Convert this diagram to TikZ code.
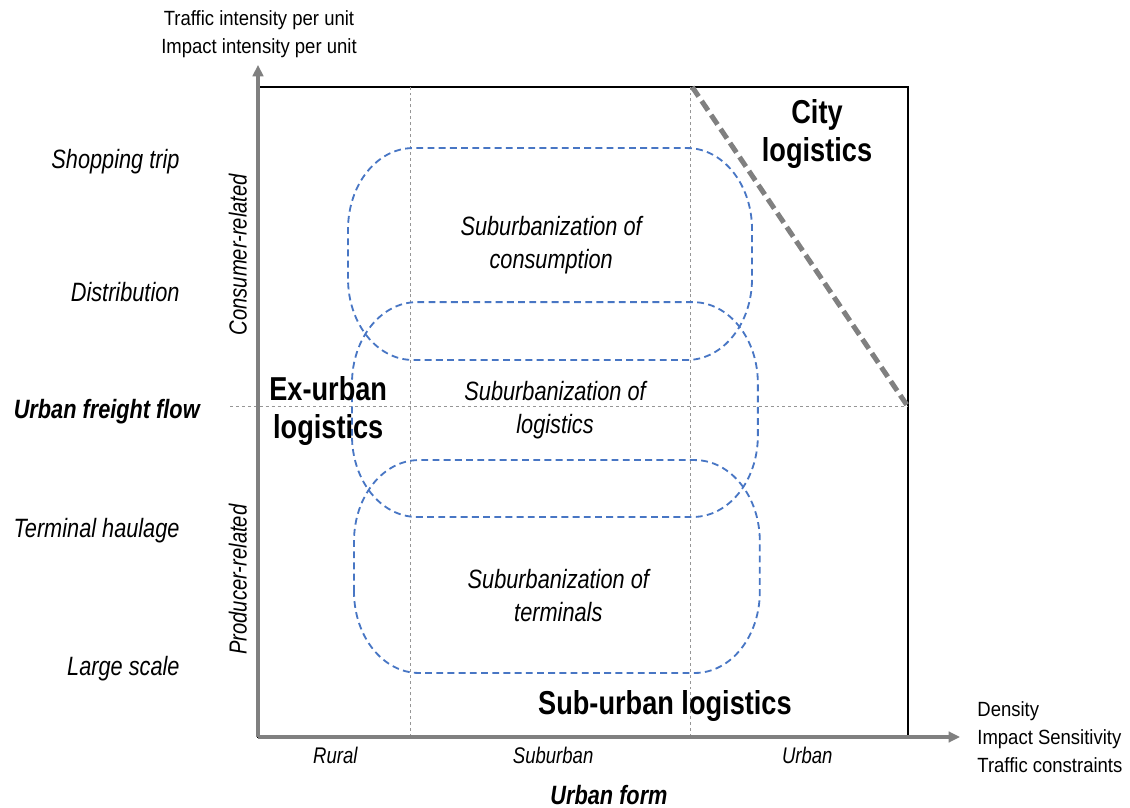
\documentclass[tikz,border=0pt]{standalone}
\usepackage{fontspec}
\setmainfont[FakeStretch=0.82]{Liberation Sans}
\newfontfamily\axisfont[FakeStretch=0.9]{Liberation Sans}
\usetikzlibrary{arrows.meta}
\definecolor{axisgray}{RGB}{128,128,128}
\definecolor{guidegray}{RGB}{150,150,150}
\definecolor{bubbleblue}{RGB}{72,118,196}
\tikzset{
    axis/.style={axisgray, line width=1.8pt, -{Triangle[length=5pt, width=4.6pt]}},
    frame/.style={black, line width=0.6pt},
    guide/.style={guidegray, line width=0.35pt, dash pattern=on 1.3pt off 1.3pt},
    border/.style={axisgray, line width=2.2pt, dash pattern=on 5pt off 2.4pt},
    bubble/.style={bubbleblue, line width=0.8pt, dash pattern=on 3pt off 1.9pt},
    axislabel/.style={font=\axisfont\fontsize{9}{12.3}\selectfont, inner sep=0pt},
    rowlabel/.style={font=\itshape\fontsize{11.6}{14}\selectfont, anchor=east, inner sep=0pt},
    collabel/.style={font=\itshape\fontsize{9.9}{12}\selectfont, inner sep=0pt},
    sidelabel/.style={font=\itshape\fontsize{10.8}{12}\selectfont, rotate=90, inner sep=0pt},
    zone/.style={font=\bfseries\fontsize{14.5}{16.6}\selectfont, align=center, inner sep=0pt},
    bubbletext/.style={font=\itshape\fontsize{11.6}{14.4}\selectfont, align=center, inner sep=0pt}
}
\begin{document}
\begin{tikzpicture}
    \useasboundingbox (-3.969,-1.077) rectangle (13.415,11.338);
    % frame and guides
    \draw[frame] (0,0) rectangle (10,10);
    \coordinate (G1a) at (2.34,0);
    \coordinate (G1b) at (2.34,10);
    \coordinate (G2a) at (6.65,0);
    \coordinate (G2b) at (6.65,10);
    \coordinate (G3a) at (-0.43,5.08);
    \coordinate (G3b) at (10,5.08);
    \draw[guide] (G1a)--(G1b);
    \draw[guide] (G2a)--(G2b);
    \draw[guide] (G3a)--(G3b);
    % axes
    \coordinate (O) at (0,0);
    \coordinate (Ytip) at (0,10.34);
    \coordinate (Xtip) at (10.8,0);
    \draw[axis] (O)--(Ytip);
    \draw[axis] (O)--(Xtip);
    \node[axislabel, align=center] (Ylab) at (0.015,10.815) {Traffic intensity per unit\\Impact intensity per unit};
    \node[axislabel, align=left, anchor=west] (Xlab) at (11.06,0.0) {Density\\Impact Sensitivity\\Traffic constraints};
    % city limit
    \coordinate (C1) at (6.68,10);
    \coordinate (C2) at (10,5.08);
    \draw[border] (C1)--(C2);
    % bubbles
    \draw[bubble] (1.385,7.05) -- (1.385,7.81) arc[start angle=180, end angle=90, x radius=1, y radius=1.25]
        -- (6.6,9.06) arc[start angle=90, end angle=0, x radius=1, y radius=1.25]
        -- (7.6,7.05) arc[start angle=0, end angle=-90, x radius=1, y radius=1.25]
        -- (2.385,5.8) arc[start angle=270, end angle=180, x radius=1, y radius=1.25] -- cycle;
    \draw[bubble] (1.446,4.635) -- (1.446,5.44) arc[start angle=180, end angle=90, x radius=1, y radius=1.25]
        -- (6.69,6.69) arc[start angle=90, end angle=0, x radius=1, y radius=1.25]
        -- (7.69,4.635) arc[start angle=0, end angle=-90, x radius=1, y radius=1.25]
        -- (2.446,3.385) arc[start angle=270, end angle=180, x radius=1, y radius=1.25] -- cycle;
    \draw[bubble] (1.477,2.235) -- (1.477,3.01) arc[start angle=180, end angle=90, x radius=1, y radius=1.25]
        -- (6.72,4.26) arc[start angle=90, end angle=0, x radius=1, y radius=1.25]
        -- (7.72,2.235) arc[start angle=0, end angle=-90, x radius=1, y radius=1.25]
        -- (2.477,0.985) arc[start angle=270, end angle=180, x radius=1, y radius=1.25] -- cycle;
    \node[bubbletext] (B1) at (4.51,7.57) {Suburbanization of\\consumption};
    \node[bubbletext] (B2) at (4.57,5.03) {Suburbanization of\\logistics};
    \node[bubbletext] (B3) at (4.62,2.18) {Suburbanization of\\terminals};
    % zones
    \node[zone] (Ex) at (1.08,5.02) {Ex-urban\\logistics};
    \node[zone] (City) at (8.6,9.28) {City\\logistics};
    \node[zone] (Sub) at (6.26,0.48) {Sub-urban logistics};
    % row labels
    \node[rowlabel] (R1) at (-1.2,8.85) {Shopping trip};
    \node[rowlabel] (R2) at (-1.2,6.85) {Distribution};
    \node[rowlabel, font=\bfseries\itshape\fontsize{11.6}{14}\selectfont] (R3) at (-0.89,5.0) {Urban freight flow};
    \node[rowlabel] (R4) at (-1.2,3.18) {Terminal haulage};
    \node[rowlabel] (R5) at (-1.2,1.05) {Large scale};
    \node[sidelabel] (S1) at (-0.31,7.42) {Consumer-related};
    \node[sidelabel] (S2) at (-0.31,2.42) {Producer-related};
    % column labels
    \node[collabel] (K1) at (1.19,-0.28) {Rural};
    \node[collabel] (K2) at (4.54,-0.28) {Suburban};
    \node[collabel] (K3) at (8.45,-0.28) {Urban};
    \node[collabel, font=\bfseries\itshape\fontsize{11.6}{14}\selectfont] (K4) at (5.4,-0.89) {Urban form};
\end{tikzpicture}
\end{document}
